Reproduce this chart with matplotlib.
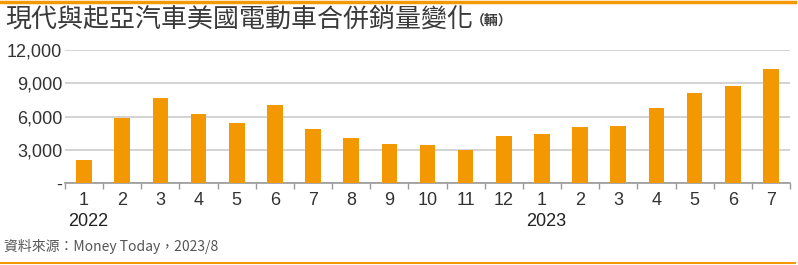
import matplotlib
matplotlib.use("Agg")
import matplotlib.pyplot as plt
from matplotlib.lines import Line2D

months = ["1", "2", "3", "4", "5", "6", "7", "8", "9", "10", "11", "12",
          "1", "2", "3", "4", "5", "6", "7"]
sales = [2100, 5850, 7650, 6200, 5430, 7050, 4920, 4050, 3540, 3430, 3040, 4300,
         4400, 5080, 5140, 6770, 8090, 8750, 10290]
years = [(0, "2022"), (12, "2023")]
yticks = [0, 3000, 6000, 9000, 12000]
ytick_labels = ["-", "3,000", "6,000", "9,000", "12,000"]
title = "現代與起亞汽車美國電動車合併銷量變化"
unit = "（輛）"
source = "資料來源：Money Today，2023/8"

ORANGE = "#F39800"
FONT = ["Liberation Sans", "Noto Sans CJK TC", "DejaVu Sans"]
CJK = ["Noto Sans CJK TC", "DejaVu Sans"]

fig = plt.figure(figsize=(7.98, 2.65), dpi=100)
ax = fig.add_axes([65/798, 1-183.3/265, (790-65)/798, (183.3-50)/265])

x = list(range(len(sales)))
ax.bar(x, sales, width=0.41, color=ORANGE, zorder=3)
ax.set_xlim(-0.5, len(sales)-0.5)
ax.set_ylim(0, 12000)
ax.set_yticks(yticks)
ax.set_yticklabels(ytick_labels, family=FONT, fontsize=13, color="#333333")
ax.yaxis.grid(True, color="#cccccc", linewidth=1.2, zorder=0)
ax.tick_params(axis="y", length=0, pad=2)

# x ticks at boundaries
ax.set_xticks([i - 0.5 for i in range(len(sales)+1)], minor=False)
ax.set_xticklabels([""]*(len(sales)+1))
ax.tick_params(axis="x", which="major", length=4, color="#999999", width=1)
ax.set_xticks(x, minor=True)
ax.set_xticklabels(months, minor=True, family=FONT, fontsize=13, color="#333333")
ax.tick_params(axis="x", which="minor", length=0, pad=6)

for s in ["top", "right", "left"]:
    ax.spines[s].set_visible(False)
ax.spines["bottom"].set_color("#999999")
ax.spines["bottom"].set_linewidth(1.2)

for idx, yr in years:
    ax.text(idx + 0.1, -0.29, yr, transform=ax.get_xaxis_transform(), ha="center", va="center",
            family=FONT, fontsize=13, color="#222222")

fig.text(5/798, 1-19/265, title, family=CJK, fontsize=18.7, color="#3a3a3a",
         ha="left", va="center")
fig.text(471/798, 1-21/265, unit, family=CJK, fontsize=10, color="#3a3a3a",
         ha="left", va="center", weight="bold")
fig.text(4/798, 1-246/265, source, family=CJK, fontsize=10, color="#555555",
         ha="left", va="center")

fig.add_artist(Line2D([0, 795/798], [1-1.5/265, 1-1.5/265], color=ORANGE, linewidth=2.5,
                      transform=fig.transFigure))
fig.add_artist(Line2D([0, 795/798], [1-263/265, 1-263/265], color=ORANGE, linewidth=1.5,
                      transform=fig.transFigure))

fig.savefig("out.png", dpi=100)
